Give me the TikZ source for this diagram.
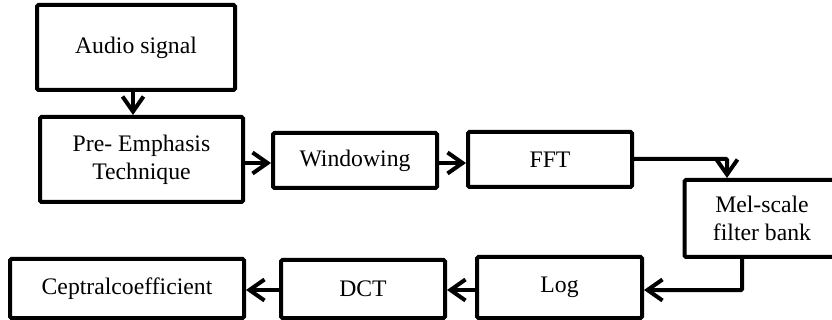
\documentclass[tikz,border=0pt]{standalone}
\usepackage{fontspec}
\setmainfont{Liberation Serif}
\usetikzlibrary{arrows.meta}
\tikzset{
  blk/.style={draw=black, line width=4pt, rounded corners=1.5pt, fill=white, inner sep=0pt, font=\fontsize{23.7}{28}\selectfont, align=center},
  conn/.style={line width=4pt, -{Straight Barb[length=15pt,width=21pt,line width=4pt]}, rounded corners=1pt}
}
\begin{document}
\begin{tikzpicture}[x=1pt,y=-1pt]
\useasboundingbox (0,0) rectangle (832,320);
\node[blk, minimum width=198pt, minimum height=85pt] (audio) at (136,47.5) {Audio signal};
\node[blk, minimum width=203pt, minimum height=85pt] (pre) at (141.5,159.5) {Pre- Emphasis\\Technique};
\node[blk, minimum width=164pt, minimum height=55pt] (win) at (355,160.5) {Windowing};
\node[blk, minimum width=164pt, minimum height=55pt] (fft) at (550,159.5) {FFT};
\node[blk, minimum width=155pt, minimum height=77pt] (mel) at (762,218.5) {Mel-scale\\filter bank};
\node[blk, minimum width=165pt, minimum height=61pt] (log) at (559.5,287.5) {Log};
\node[blk, minimum width=164pt, minimum height=58pt] (dct) at (363,289) {DCT};
\node[blk, minimum width=234pt, minimum height=59pt] (cep) at (127,288.5) {Ceptralcoefficient};
\coordinate (c1) at (727,159);
\coordinate (c2) at (742,290);
\draw[conn] (audio.south -| 133,0) -- (pre.north -| 133,0);
\draw[conn] (pre.east |- 0,163) -- (win.west |- 0,163);
\draw[conn] (win.east |- 0,163) -- (fft.west |- 0,163);
\draw[conn] (fft.east |- c1) -- (c1) -- (mel.north -| c1);
\draw[conn] (mel.south -| c2) -- (c2) -- (log.east |- c2);
\draw[conn] (log.west |- 0,290) -- (dct.east |- 0,290);
\draw[conn] (dct.west |- 0,290) -- (cep.east |- 0,290);
\end{tikzpicture}
\end{document}
